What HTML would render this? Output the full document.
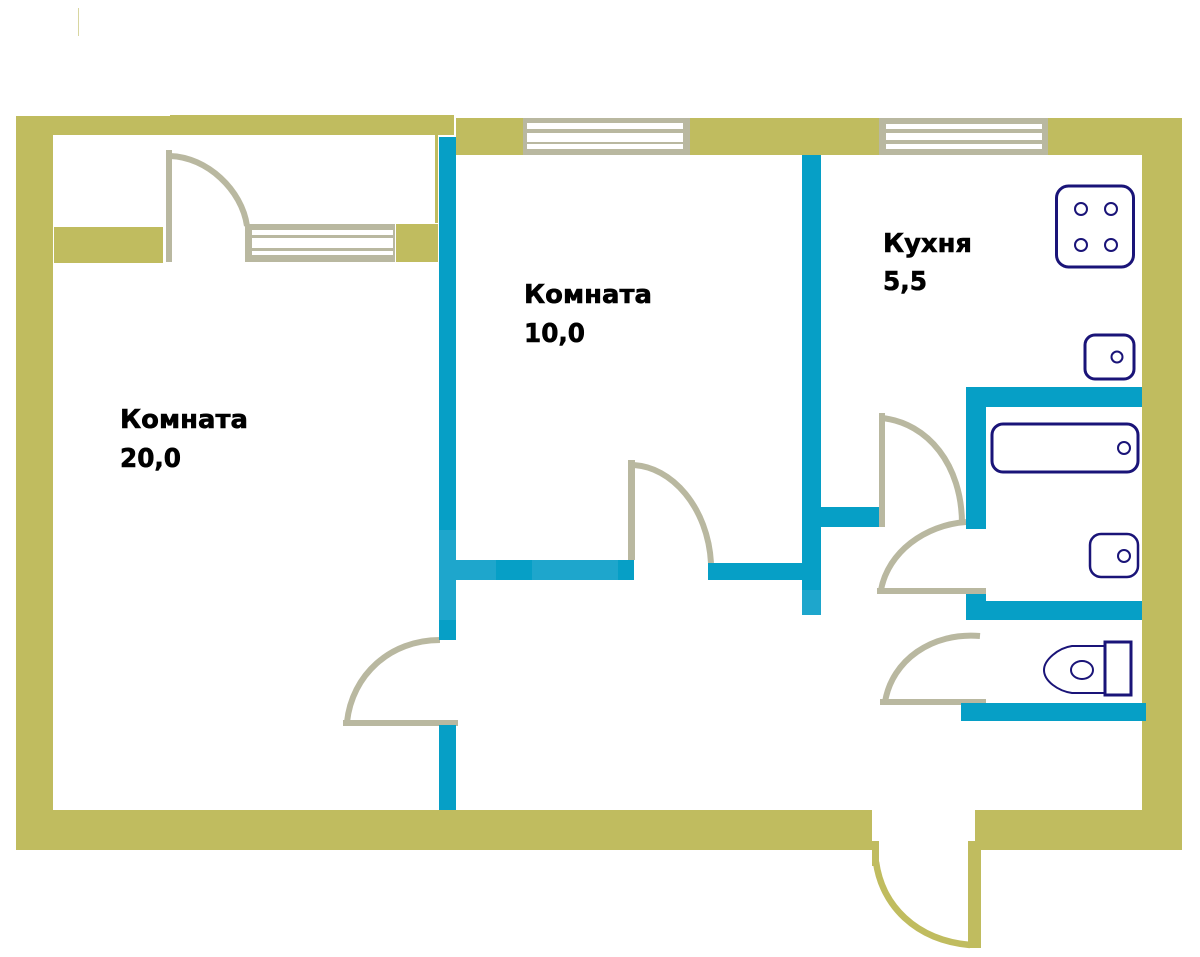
<!DOCTYPE html>
<html><head><meta charset="utf-8"><style>html,body{margin:0;padding:0;background:#fff}svg{display:block}text{font-family:"DejaVu Sans",sans-serif;font-weight:bold;font-size:26px;fill:#000;stroke:#000;stroke-width:.6px}</style></head>
<body>
<svg width="1200" height="957" viewBox="0 0 1200 957" xmlns="http://www.w3.org/2000/svg">
<rect width="1200" height="957" fill="#fff"/>
<rect x="78" y="8" width="1" height="28" fill="#d8d6a0"/>
<g fill="#c0bc5f">
<path d="M16 116H170V115H454V135H53V850H16Z"/>
<rect x="435" y="135" width="3" height="88"/>
<rect x="54" y="227" width="109" height="36"/>
<rect x="396" y="224" width="42" height="38"/>
<rect x="456" y="118" width="726" height="37"/>
<rect x="1142" y="118" width="40" height="732"/>
<rect x="16" y="810" width="856" height="40"/>
<rect x="975" y="810" width="207" height="40"/>
<rect x="968" y="841" width="13" height="107"/>
<rect x="872" y="841" width="7" height="25"/>
</g>
<path d="M876 862C882 905 915 940 970 945" fill="none" stroke="#c0bc5f" stroke-width="6.500"/>
<g fill="#b9b8a0">
<rect x="523" y="118" width="167" height="37"/>
<rect x="879" y="118" width="169" height="37"/>
<rect x="245" y="224" width="150" height="38"/>
<rect x="166" y="150" width="6" height="112"/>
<rect x="628" y="460" width="7" height="100"/>
<rect x="343" y="720" width="115" height="6"/>
<rect x="879" y="413" width="6" height="114"/>
<rect x="877" y="588" width="109" height="6"/>
<rect x="880" y="699" width="106" height="6"/>
</g>
<g fill="#fff">
<rect x="527" y="123" width="156" height="6"/><rect x="527" y="133" width="156" height="9"/><rect x="527" y="144" width="156" height="5"/>
<rect x="886" y="124" width="156" height="5"/><rect x="886" y="133" width="156" height="7"/><rect x="886" y="144" width="156" height="5"/>
<rect x="252" y="230" width="141" height="5"/><rect x="252" y="238" width="141" height="10"/><rect x="252" y="251" width="141" height="4"/>
</g>
<g fill="none" stroke="#b9b8a0" stroke-width="6">
<path d="M170 156C207 157 242 190 247 226"/>
<path d="M632 465C672 466 708 508 711 563"/>
<path d="M440 640C390 640 352 675 347 722"/>
<path d="M882 418C928 423 962 465 962 524"/>
<path d="M966 522C925 525 888 552 881 590"/>
<path d="M980 636C932 632 892 660 885 702"/>
</g>
<g fill="#069fc6">
<rect x="439" y="137" width="17" height="503"/>
<rect x="439" y="725" width="17" height="85"/>
<rect x="802" y="155" width="19" height="460"/>
<rect x="456" y="560" width="178" height="20"/>
<rect x="708" y="563" width="94" height="17"/>
<rect x="821" y="507" width="58" height="20"/>
<rect x="966" y="387" width="176" height="20"/>
<rect x="966" y="387" width="20" height="142"/>
<rect x="966" y="594" width="20" height="26"/>
<rect x="966" y="601" width="176" height="19"/>
<rect x="961" y="703" width="185" height="18"/>
</g>
<g fill="#1ea6cc">
<rect x="439" y="530" width="17" height="90"/>
<rect x="456" y="560" width="40" height="20"/>
<rect x="532" y="560" width="86" height="20"/>
<rect x="802" y="590" width="19" height="25"/>
</g>
<g fill="none" stroke="#1a1478" stroke-width="3">
<rect x="1056.500" y="186" width="77" height="81" rx="12"/>
<circle cx="1081" cy="209" r="6" stroke-width="2"/><circle cx="1111" cy="209" r="6" stroke-width="2"/>
<circle cx="1081" cy="245" r="6" stroke-width="2"/><circle cx="1111" cy="245" r="6" stroke-width="2"/>
<rect x="1085" y="335" width="49" height="44" rx="10"/>
<circle cx="1117" cy="357" r="5.500" stroke-width="2"/>
<rect x="992" y="424" width="146" height="48" rx="11"/>
<circle cx="1124" cy="448" r="6" stroke-width="2"/>
<rect x="1090" y="534" width="48" height="43" rx="11" stroke-width="2.500"/>
<circle cx="1124" cy="556" r="6" stroke-width="2"/>
<rect x="1105" y="642" width="26" height="53"/>
<path d="M1105 646H1072C1058 648 1044 660 1044 670C1044 681 1058 691 1072 693H1105" stroke-width="2"/>
<ellipse cx="1082" cy="670" rx="11" ry="9" stroke-width="2"/>
</g>
<text x="524" y="303" textLength="128" lengthAdjust="spacingAndGlyphs">Комната</text>
<text x="524" y="342" textLength="61" lengthAdjust="spacingAndGlyphs">10,0</text>
<text x="120" y="428" textLength="128" lengthAdjust="spacingAndGlyphs">Комната</text>
<text x="120" y="467" textLength="61" lengthAdjust="spacingAndGlyphs">20,0</text>
<text x="883" y="252" textLength="89" lengthAdjust="spacingAndGlyphs">Кухня</text>
<text x="883" y="290" textLength="44" lengthAdjust="spacingAndGlyphs">5,5</text>
</svg>
</body></html>
